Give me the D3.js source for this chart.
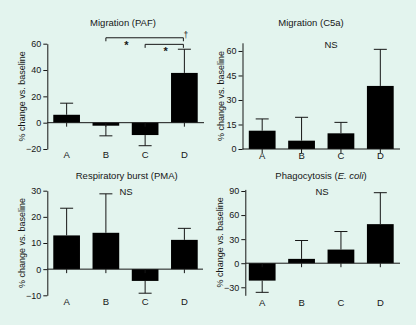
<!DOCTYPE html>
<html><head><meta charset="utf-8">
<script src="https://cdn.jsdelivr.net/npm/d3@7"></script>
<style>
body{margin:0;background:#e3f4ee;}
svg{display:block;font-family:"Liberation Sans",Arial,Helvetica,sans-serif;}
</style>
</head><body>
<svg id="c" width="416" height="325"></svg>
<script>
// ---- data ----
const categories = ["A", "B", "C", "D"];

const pafMean = [6, -2.3, -9.4, 37.8];
const pafErr = [8.8, 7.7, 8.1, 18];
const pafTicks = [-20, 0, 20, 40, 60];

const c5aMean = [11.2, 5.1, 9.6, 38.6];
const c5aErr = [7.2, 14.3, 6.7, 22.4];
const c5aTicks = [0, 15, 30, 45, 60];

const pmaMean = [12.9, 13.9, -4.5, 11.2];
const pmaErr = [10.4, 14.9, 4.7, 4.4];
const pmaTicks = [-10, 0, 10, 20, 30];

const ecoliMean = [-21.7, 5.4, 17, 48.7];
const ecoliErr = [14.6, 22.9, 22.5, 39.2];
const ecoliTicks = [-30, 0, 30, 60, 90];

const pafComparisons = [
  {from: "B", to: "D", at: 64.5, label: "*"},
  {from: "C", to: "D", at: 59.5, label: "*"}
];
const pafDagger = {cat: "D", at: 68, label: "\u2020"};

// ---- layout ----
const svg = d3.select("#c");
const ink = "#161616";

const panels = [
  {mean: pafMean, err: pafErr, ticks: pafTicks, domain: [-20, 60], range: [149, 43.7],
   axisX: 47.3, band: [47, 204], xEnd: 204, title: ["Migration (PAF)"], titleX: 123, titleY: 26,
   labelY: 157.5, atX: 24.5, ns: null},
  {mean: c5aMean, err: c5aErr, ticks: c5aTicks, domain: [0, 65], range: [149, 42.8],
   axisX: 242.5, band: [242.5, 400], xEnd: 400, title: ["Migration (C5a)"], titleX: 311, titleY: 25.5,
   labelY: 159, atX: 223.8, ns: [331, 48.3]},
  {mean: pmaMean, err: pmaErr, ticks: pmaTicks, domain: [-10, 30], range: [295.3, 190.7],
   axisX: 47.3, band: [47, 204], xEnd: 203, title: ["Respiratory burst (PMA)"], titleX: 126.7, titleY: 178.5,
   labelY: 305, atX: 24.5, ns: [126, 195]},
  {mean: ecoliMean, err: ecoliErr, ticks: ecoliTicks, domain: [-40, 92], range: [295.3, 189.4],
   axisX: 245.3, band: [242.5, 400], xEnd: 400, title: ["Phagocytosis (", "E. coli", ")"], titleX: 321, titleY: 178.5,
   labelY: 305.5, atX: 222.5, ns: [322, 195]}
];

const scales = [];

panels.forEach((p, i) => {
  const g = svg.append("g");
  const x = d3.scaleBand().domain(categories).range(p.band).paddingInner(0.32).paddingOuter(0.16);
  const y = d3.scaleLinear().domain(p.domain).range(p.range);
  scales.push({x, y});
  const rows = categories.map((c, k) => ({c, m: p.mean[k], e: p.err[k]}));

  // bars
  g.selectAll("rect").data(rows).enter().append("rect")
    .attr("x", d => x(d.c))
    .attr("width", x.bandwidth())
    .attr("y", d => y(Math.max(0, d.m)))
    .attr("height", d => Math.abs(y(d.m) - y(0)))
    .attr("fill", "#000");

  // error bars (one-sided, away from zero)
  const cx = d => x(d.c) + x.bandwidth() / 2;
  const tip = d => d.m >= 0 ? d.m + d.e : d.m - d.e;
  g.selectAll("line.eb").data(rows).enter().append("line")
    .attr("x1", cx).attr("x2", cx)
    .attr("y1", d => y(d.m)).attr("y2", d => y(tip(d)))
    .attr("stroke", ink).attr("stroke-width", 1);
  g.selectAll("line.cap").data(rows).enter().append("line")
    .attr("x1", d => cx(d) - 6.5).attr("x2", d => cx(d) + 6.5)
    .attr("y1", d => y(tip(d))).attr("y2", d => y(tip(d)))
    .attr("stroke", ink).attr("stroke-width", 1);

  // y axis
  const ya = g.append("g").attr("transform", `translate(${p.axisX},0)`)
    .call(d3.axisLeft(y).tickValues(p.ticks).tickSize(4).tickSizeOuter(0).tickPadding(2));
  ya.select(".domain").attr("stroke", ink);
  ya.selectAll(".tick line").attr("stroke", ink);
  ya.selectAll(".tick text").attr("fill", ink).style("font-size", "9px")
    .style("font-family", '"Liberation Sans",Arial,sans-serif');

  // x axis line at zero with category ticks
  g.append("line").attr("x1", p.axisX).attr("x2", p.xEnd)
    .attr("y1", y(0)).attr("y2", y(0)).attr("stroke", ink).attr("stroke-width", 1);
  g.selectAll("line.xt").data(rows).enter().append("line")
    .attr("x1", cx).attr("x2", cx)
    .attr("y1", y(0)).attr("y2", y(0) + 4)
    .attr("stroke", ink).attr("stroke-width", 1);

  // category labels
  g.selectAll("text.cl").data(rows).enter().append("text")
    .attr("x", cx).attr("y", p.labelY)
    .attr("text-anchor", "middle").attr("fill", ink).style("font-size", "9.5px")
    .text(d => d.c);

  // title
  const t = g.append("text").attr("x", p.titleX).attr("y", p.titleY)
    .attr("text-anchor", "middle").attr("fill", ink).style("font-size", "9.5px");
  p.title.forEach((s, k) => {
    const ts = t.append("tspan").text(s);
    if (p.title.length > 1 && k === 1) ts.style("font-style", "italic");
  });

  // axis title
  const mid = (p.range[0] + p.range[1]) / 2;
  g.append("text").attr("transform", `translate(${p.atX},${mid}) rotate(-90)`)
    .attr("text-anchor", "middle").attr("fill", ink).style("font-size", "9px")
    .text("% change vs. baseline");

  if (p.ns) {
    g.append("text").attr("x", p.ns[0]).attr("y", p.ns[1])
      .attr("text-anchor", "middle").attr("fill", ink).style("font-size", "9.5px").text("NS");
  }
});

// significance brackets on PAF panel
{
  const {x, y} = scales[0];
  const c = k => x(k) + x.bandwidth() / 2;
  const g = svg.append("g");
  pafComparisons.forEach(cmp => {
    const x1 = c(cmp.from), x2 = c(cmp.to) - 1, yy = y(cmp.at);
    g.append("path").attr("d", `M${x1},${yy + 3.5}V${yy}H${x2}V${yy + 3.5}`)
      .attr("fill", "none").attr("stroke", ink).attr("stroke-width", 1);
    const next = categories[categories.indexOf(cmp.from) + 1];
    const sx = (c(cmp.from) + c(next)) / 2 + 1;
    g.append("text").attr("x", sx).attr("y", yy + 11)
      .attr("text-anchor", "middle").attr("fill", ink).style("font-size", "11px")
      .style("font-weight", "bold").text(cmp.label);
  });
  g.append("text").attr("x", c(pafDagger.cat) + 1.5).attr("y", y(pafDagger.at) + 5)
    .attr("text-anchor", "middle").attr("fill", ink).style("font-size", "8.5px").text(pafDagger.label);
}
</script>
</body></html>
